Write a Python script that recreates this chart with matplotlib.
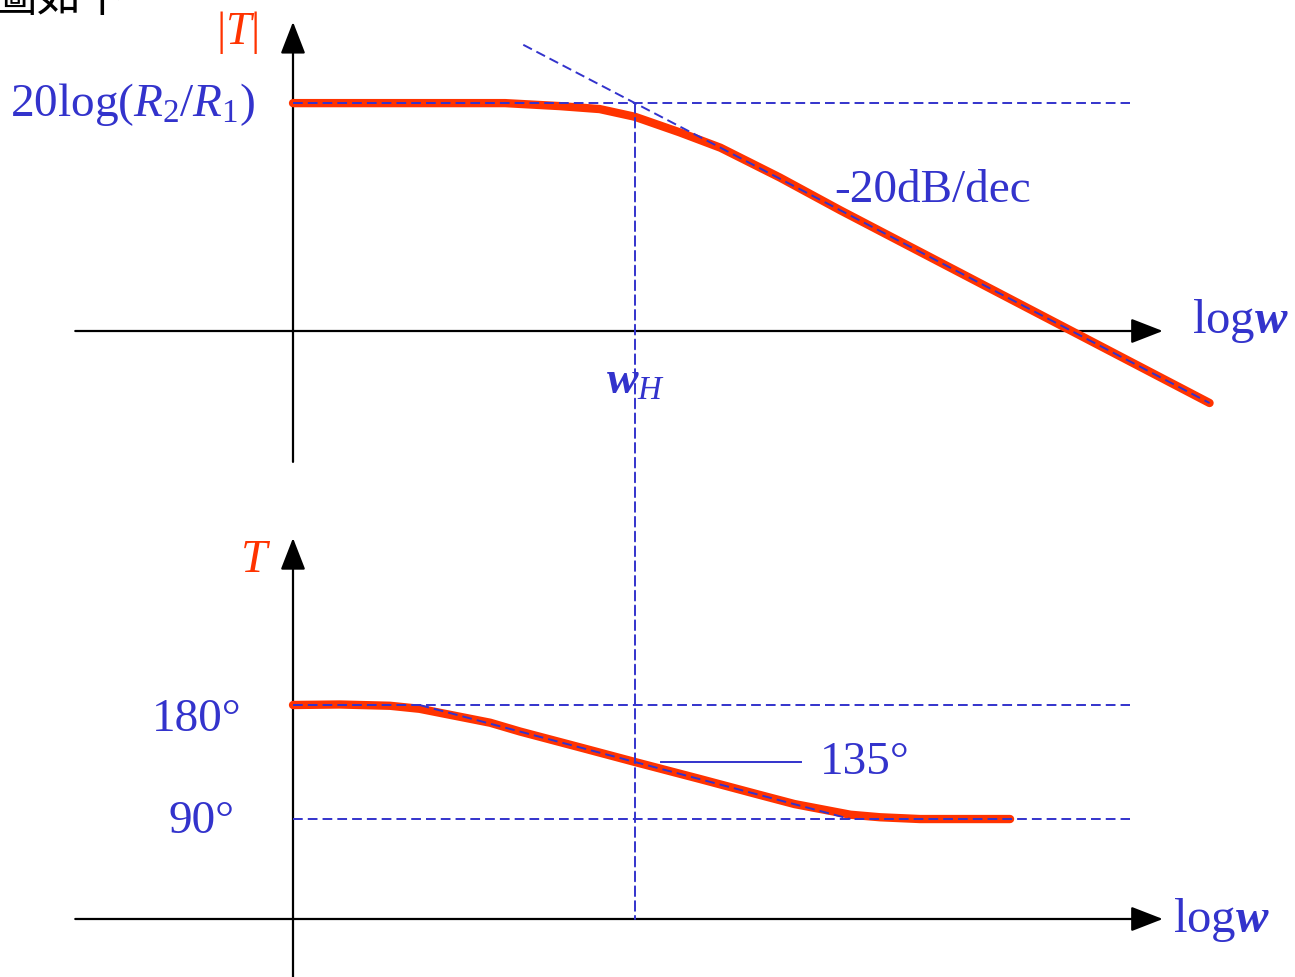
"""Bode diagram: |T| and phase of an inverting low-pass stage"""
import matplotlib
matplotlib.use("Agg")
import matplotlib.pyplot as plt
from matplotlib.patches import ConnectionPatch

plt.rcParams['mathtext.fontset'] = 'custom'
plt.rcParams['mathtext.rm'] = 'Liberation Serif'
plt.rcParams['mathtext.it'] = 'Liberation Serif:italic'
plt.rcParams['mathtext.bf'] = 'Liberation Serif:italic:bold'   # w in bold italic

RED = '#FF3300'
BLUE = '#3333CC'
SERIF = 'Liberation Serif'

# x in decades relative to w_H (w_H at 0), magnitude in dB, phase in degrees
K_DB = 76.6                      # 20log(R2/R1)
mag_x = [-3.0, -2.06, -1.14, -0.66, -0.31, 0.0, 0.39, 0.75, 1.27, 1.80, 3.20, 5.04]
mag_y = [76.6, 76.6, 76.6, 75.6, 74.6, 72.0, 66.8, 61.6, 51.6, 40.6, 12.6, -24.2]
slope_x = [-0.98, 5.04]          # -20dB/dec asymptote
slope_y = [96.2, -24.2]

ph_x = [-3.0, -2.59, -2.15, -1.89, -1.27, -1.01, -0.48, 0.0, 0.57, 1.10, 1.40, 1.89, 2.15, 2.50, 3.29]
ph_y = [180.0, 180.4, 179.4, 177.0, 166.0, 159.1, 146.5, 135.0, 121.6, 108.9, 101.8, 93.4, 91.4, 90.0, 90.0]
ph_asym_x = [-1.89, 1.89]
ph_asym_y = [180.0, 90.0]
ph_levels = [180.0, 90.0]
mark135_x = [0.23, 1.46]

guide_end = 4.34                 # end of the dashed horizontal guides
axis_x = [-4.91, 4.63]           # horizontal axes (tail, tip)
yaxis_x = -3.0
top_yaxis = [-44.0, 103.9]
bot_yaxis = [-40.0, 311.8]
bot_base = 11.1                  # phase value where the bottom w axis is drawn

fig = plt.figure(figsize=(12.95, 9.77), dpi=100)
ax1 = fig.add_axes([0, 1 - 470 / 977, 1, 470 / 977])
ax2 = fig.add_axes([0, 0, 1, 507 / 977])
for ax in (ax1, ax2):
    ax.set_xlim(-635 / 114, 660 / 114)
    ax.axis('off')
ax1.set_ylim(-(470 - 331) / 2.975, 331 / 2.975)
ax2.set_ylim(180 - (977 - 705) / 1.267, 180 + (705 - 470) / 1.267)

arrow = dict(arrowstyle='-|>,head_length=0.9,head_width=0.35', color='black',
             lw=1.6, mutation_scale=22, shrinkA=0, shrinkB=0)
dash = dict(color=BLUE, lw=1.4, ls=(0, (5, 2.6)), zorder=4)

# ---- magnitude ----
ax1.annotate('', xy=(axis_x[1], 0), xytext=(axis_x[0], 0), arrowprops=arrow)
ax1.annotate('', xy=(yaxis_x, top_yaxis[1]), xytext=(yaxis_x, top_yaxis[0]), arrowprops=arrow)
ax1.plot(mag_x, mag_y, color=RED, lw=6.0, solid_capstyle='round',
         solid_joinstyle='round', zorder=3)
ax1.plot([yaxis_x, guide_end], [K_DB, K_DB], **dash)
ax1.plot(slope_x, slope_y, **dash)

ax1.text(-3.49, 100.2, '$|T|$', color=RED, fontsize=33, ha='center', va='center')
ax1.text(-3.33, 76.0, r'$\mathrm{20log}(R_2/R_1)$', color=BLUE, fontsize=34,
         ha='right', va='center')
ax1.text(1.75, 47.2, '-20dB/dec', color=BLUE, fontsize=34, family=SERIF,
         ha='left', va='center')
ax1.text(4.89, 3.4, r'$\mathrm{log}\mathbf{w}$', color=BLUE, fontsize=35,
         ha='left', va='center')
ax1.text(-0.25, -17.0, r'$\mathbf{w}_H$', color=BLUE, fontsize=34,
         ha='left', va='center')

# ---- phase ----
ax2.annotate('', xy=(axis_x[1], bot_base), xytext=(axis_x[0], bot_base), arrowprops=arrow)
ax2.annotate('', xy=(yaxis_x, bot_yaxis[1]), xytext=(yaxis_x, bot_yaxis[0]), arrowprops=arrow)
ax2.plot(ph_x, ph_y, color=RED, lw=6.0, solid_capstyle='round',
         solid_joinstyle='round', zorder=3)
for lev in ph_levels:
    ax2.plot([yaxis_x, guide_end], [lev, lev], **dash)
ax2.plot(ph_asym_x, ph_asym_y, **dash)
ax2.plot(mark135_x, [135, 135], color=BLUE, lw=1.4)

ax2.text(-3.33, 295, '$T$', color=RED, fontsize=34, ha='center', va='center')
ax2.text(-3.45, 168.3, '180°', color=BLUE, fontsize=34, family=SERIF, ha='right', va='center')
ax2.text(-3.51, 87.8, '90°', color=BLUE, fontsize=34, family=SERIF, ha='right', va='center')
ax2.text(1.62, 134.6, '135°', color=BLUE, fontsize=34, family=SERIF, ha='left', va='center')
ax2.text(4.72, 10.5, r'$\mathrm{log}\mathbf{w}$', color=BLUE, fontsize=35,
         ha='left', va='center')

# vertical w_H guide through both panels
con = ConnectionPatch(xyA=(0, K_DB), coordsA=ax1.transData,
                      xyB=(0, bot_base), coordsB=ax2.transData,
                      color=BLUE, lw=1.4, ls=(0, (5, 2.6)), zorder=4)
fig.add_artist(con)

# cut-off slide caption
fig.text(-8 / 1295, 1 - 21 / 977, '圖如下', fontsize=32, color='black',
         family=['Noto Sans CJK TC', 'DejaVu Sans'], ha='left', va='bottom')

fig.savefig('out.png', dpi=100)
